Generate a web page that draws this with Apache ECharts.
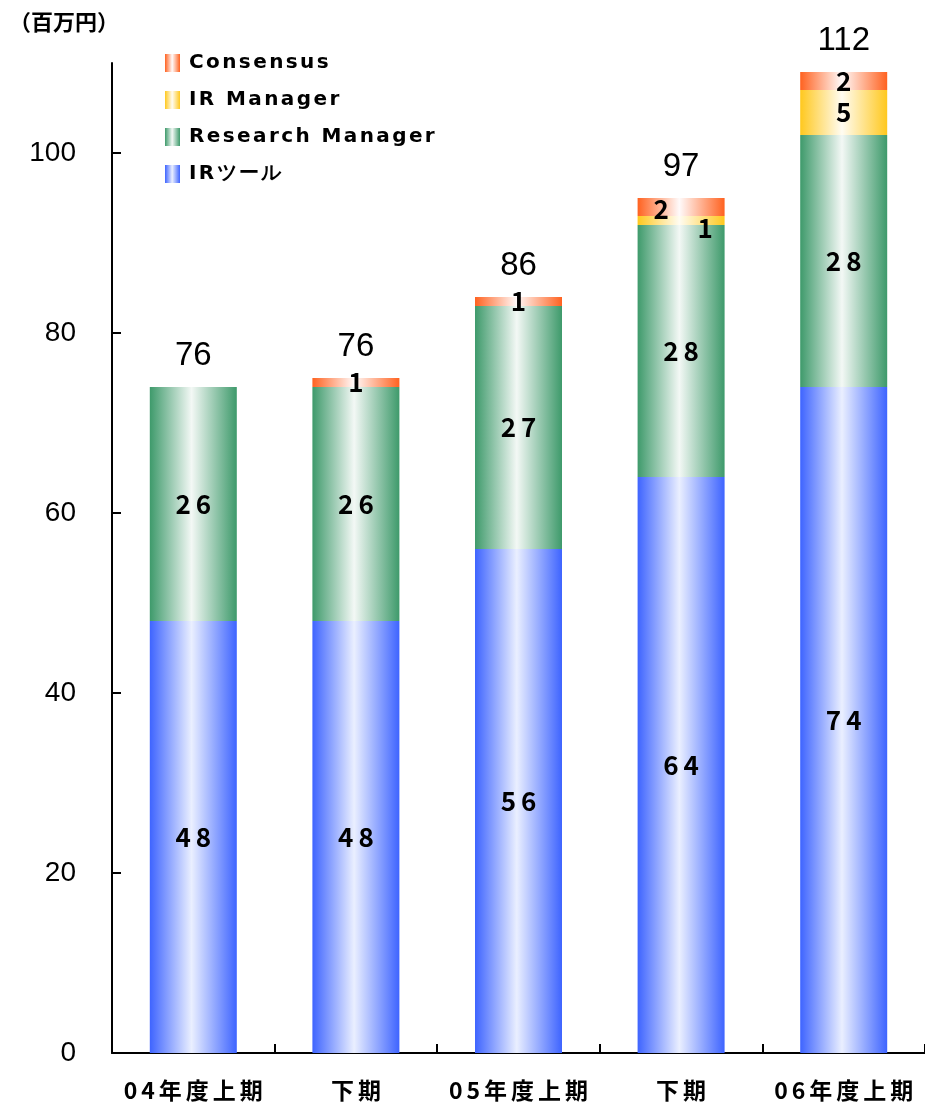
<!DOCTYPE html>
<html>
<head>
<meta charset="utf-8">
<script src="https://cdn.jsdelivr.net/npm/echarts@6/dist/echarts.min.js"></script>
<style>
html,body{margin:0;padding:0;background:#fff;}
#c{width:925px;height:1108px;}
</style>
</head>
<body>
<div id="c"></div>
<script>
// ---- data ----
const categories = ['04年度上期', '下期', '05年度上期', '下期', '06年度上期'];
const irTool = [48, 48, 56, 64, 74];
const researchManager = [26, 26, 27, 28, 28];
const irManager = [0, 0, 0, 1, 5];
const consensus = [0, 1, 1, 2, 2];
const totals = [76, 76, 86, 97, 112];
const yTicks = [0, 20, 40, 60, 80, 100];
const unitLabel = '（百万円）';

// ---- styling ----
function grad(edge, mid) {
  return {
    type: 'linear', x: 0, y: 0, x2: 1, y2: 0,
    colorStops: [
      { offset: 0, color: edge },
      { offset: 0.48, color: mid },
      { offset: 1, color: edge }
    ]
  };
}
const colors = {
  irTool: grad('#3e64ff', '#eaefff'),
  rm: grad('#3e9a6b', '#f3f8f5'),
  irm: grad('#ffc81e', '#fffcf2'),
  cons: grad('#ff6220', '#fffafa')
};
// spaced text via rich fragments (one fragment per character)
function spaced(str, style, firstStyle) {
  return str.split('').map((ch, i) => '{' + (i === 0 && firstStyle ? firstStyle : style) + '|' + ch + '}').join('');
}
const segRich = {
  d: {
    fontFamily: '"Noto Sans CJK JP", sans-serif', fontWeight: 'bold', fontSize: 26,
    color: '#000', padding: [0, 2.5, 0, 2.5]
  }
};
// per-item label offset tweaks (style only)
const labelOffsets = {
  cons: { 3: [-20, 2] },
  irm: { 3: [24, 8] }
};

function buildData(values, key) {
  return values.map((v, i) => {
    const item = { value: v };
    if (labelOffsets[key] && labelOffsets[key][i]) {
      item.label = { offset: labelOffsets[key][i] };
    }
    return item;
  });
}

function segSeries(name, values, color, key) {
  return {
    name: name, type: 'bar', stack: 'total', barWidth: 87,
    itemStyle: { color: color },
    data: buildData(values, key),
    label: {
      show: true, position: 'inside',
      formatter: p => (p.value ? spaced(String(p.value), 'd') : ''),
      rich: segRich
    },
    emphasis: { disabled: true }
  };
}

const legendFont = {
  fontFamily: '"DejaVu Sans", sans-serif', fontWeight: 'bold', fontSize: 20, color: '#000'
};

const chart = echarts.init(document.getElementById('c'), null, { renderer: 'canvas' });
chart.setOption({
  animation: false,
  backgroundColor: '#fff',
  title: {
    text: unitLabel, left: 4, top: 6,
    textStyle: { fontFamily: '"Noto Sans CJK JP", sans-serif', fontWeight: 'bold', fontSize: 22, color: '#000' }
  },
  legend: {
    data: ['Consensus', 'IR Manager', 'Research Manager', 'IRツール'],
    orient: 'vertical', left: 160, top: 48,
    itemWidth: 15, itemHeight: 18, itemGap: 17,
    icon: 'rect',
    formatter: name => spaced(name, 'l', 'f'),
    textStyle: {
      rich: {
        l: Object.assign({ padding: [0, 1.2, 0, 1.2] }, legendFont),
        f: Object.assign({ padding: [0, 1.2, 0, 4] }, legendFont)
      }
    }
  },
  grid: { left: 112, top: 63, width: 820, bottom: 55, containLabel: false },
  xAxis: {
    type: 'category', data: categories,
    axisLine: { lineStyle: { color: '#000', width: 2 } },
    axisTick: { show: true, inside: true, length: 9, interval: 0, lineStyle: { color: '#000', width: 2 } },
    axisLabel: {
      margin: 26, interval: 0, hideOverlap: false,
      formatter: v => spaced(v, 'x'),
      rich: {
        x: {
          fontFamily: '"Noto Sans CJK JP", sans-serif', fontWeight: 'bold', fontSize: 23,
          color: '#000', padding: [0, 2, 0, 2]
        }
      }
    }
  },
  yAxis: {
    type: 'value', min: 0, max: 110, interval: 20,
    axisLine: { show: true, lineStyle: { color: '#000', width: 2 } },
    axisTick: { show: true, inside: true, length: 9, lineStyle: { color: '#000', width: 2 }, customValues: yTicks },
    axisLabel: {
      margin: 36, fontFamily: '"Liberation Sans", Arial, sans-serif', fontSize: 28, color: '#000',
      customValues: yTicks
    },
    splitLine: { show: false }
  },
  series: [
    segSeries('IRツール', irTool, colors.irTool, 'ir'),
    segSeries('Research Manager', researchManager, colors.rm, 'rm'),
    segSeries('IR Manager', irManager, colors.irm, 'irm'),
    segSeries('Consensus', consensus, colors.cons, 'cons'),
    {
      name: 'total', type: 'bar', stack: 'total', barWidth: 87,
      data: totals.map(() => 0),
      itemStyle: { color: 'transparent' },
      label: {
        show: true, position: 'top', distance: 15,
        formatter: p => String(totals[p.dataIndex]),
        fontFamily: '"Liberation Sans", Arial, sans-serif', fontSize: 33, color: '#000'
      },
      emphasis: { disabled: true }
    }
  ]
});
</script>
</body>
</html>
